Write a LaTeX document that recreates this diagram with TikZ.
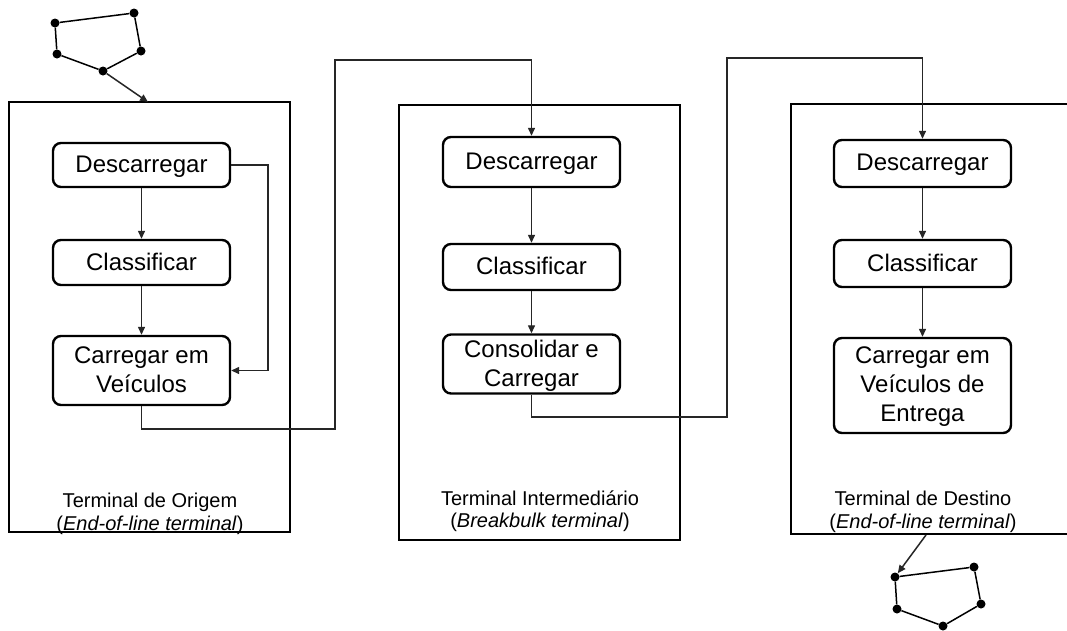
\documentclass[tikz,border=0pt]{standalone}
\usepackage{fontspec}
\setmainfont{Liberation Sans}
\usetikzlibrary{arrows.meta}
\tikzset{
  terminal/.style={draw, line width=2.8pt, inner sep=0pt},
  stepbox/.style={draw, line width=2.4pt, rounded corners=8pt, minimum width=177pt,
    align=center, inner sep=0pt, text depth=2pt, font=\fontsize{24}{29}\selectfont},
  conn/.style={line width=1.3pt, draw=black!85},
  arr/.style={conn, -{Triangle[length=8pt,width=7pt]}},
  vtx/.style={circle, fill=black, inner sep=0pt, minimum size=9pt},
  edge/.style={line width=1.5pt},
  caption/.style={align=center, font=\fontsize{20}{22.5}\selectfont}
}
\begin{document}
\begin{tikzpicture}[x=1pt,y=-1pt]
\clip (0,0) rectangle (1067,630);
\fill[white] (0,0) rectangle (1067,630);

% terminals
\node[terminal, minimum width=281pt, minimum height=430pt] (t1) at (149.5,317) {};
\node[terminal, minimum width=281pt, minimum height=435pt] (t2) at (539.5,322.5) {};
\node[terminal, minimum width=300pt, minimum height=430pt] (t3) at (941,319) {};

% origin terminal
\node[stepbox, minimum height=44pt] (d1) at (141.5,165) {Descarregar};
\node[stepbox, minimum height=45pt] (k1) at (141.5,262.5) {Classificar};
\node[stepbox, minimum height=69pt] (c1) at (141.5,370.5) {Carregar em\\Veículos};
\node[caption] (l1) at (150,514) {Terminal de Origem\\(\textit{End-of-line terminal})};

% intermediate terminal
\node[stepbox, minimum height=50pt] (d2) at (531.5,162) {Descarregar};
\node[stepbox, minimum height=46pt] (k2) at (531.5,267) {Classificar};
\node[stepbox, minimum height=59pt] (c2) at (531.5,364) {Consolidar e\\Carregar};
\node[caption] (l2) at (540,511) {Terminal Intermediário\\(\textit{Breakbulk terminal})};

% destination terminal
\node[stepbox, minimum height=47pt] (d3) at (922.5,163.5) {Descarregar};
\node[stepbox, minimum height=47pt] (k3) at (922.5,263.5) {Classificar};
\node[stepbox, minimum height=95pt] (c3) at (922.5,385.5) {Carregar em\\Veículos de\\Entrega};
\node[caption] (l3) at (923,512) {Terminal de Destino\\(\textit{End-of-line terminal})};

% flows inside the terminals
\draw[arr] (d1) -- (k1);
\draw[arr] (k1) -- (c1);
\coordinate (r1) at (268,370.5);
\draw[arr] (d1.east) -| (r1) -- (c1.east);
\draw[arr] (d2) -- (k2);
\draw[arr] (k2) -- (c2);
\draw[arr] (d3) -- (k3);
\draw[arr] (k3) -- (c3);

% links between terminals
\coordinate (a1) at (335,429);
\coordinate (a2) at (335,60);
\draw[arr] (c1.south) |- (a1) -- (a2) -| (d2.north);
\coordinate (b1) at (727,417);
\coordinate (b2) at (727,58);
\draw[arr] (c2.south) |- (b1) -- (b2) -| (d3.north);

% pickup route
\node[vtx] (p1) at (55,23) {};
\node[vtx] (p2) at (134,13) {};
\node[vtx] (p3) at (141,51) {};
\node[vtx] (p4) at (103,71) {};
\node[vtx] (p5) at (57,54) {};
\draw[edge] (p1) -- (p2) -- (p3) -- (p4) -- (p5) -- (p1);
\coordinate (e1) at (148,102);
\draw[arr, line width=1.5pt] (p4) -- (e1);

% delivery route
\node[vtx] (q1) at (895,577) {};
\node[vtx] (q2) at (974,567) {};
\node[vtx] (q3) at (981,604) {};
\node[vtx] (q4) at (943,626) {};
\node[vtx] (q5) at (897,609) {};
\draw[edge] (q1) -- (q2) -- (q3) -- (q4) -- (q5) -- (q1);
\coordinate (e2) at (926,535);
\draw[arr, line width=1.5pt] (e2) -- (q1);
\end{tikzpicture}
\end{document}
